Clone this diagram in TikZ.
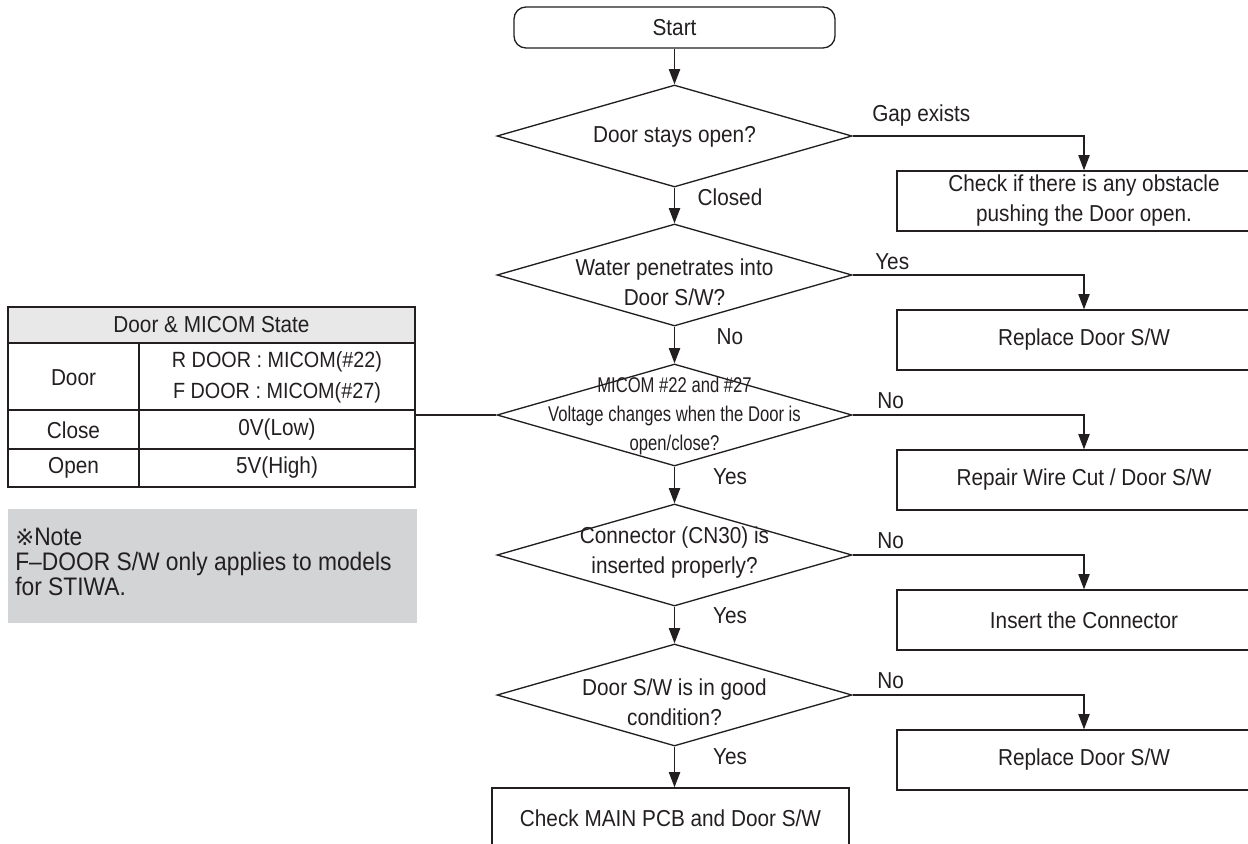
\documentclass[tikz,border=0pt]{standalone}
\usepackage{fontspec}
\setmainfont{Liberation Sans}[FakeStretch=0.9]
\newfontfamily\condfont{Liberation Sans}[FakeStretch=0.78]
\newfontfamily\symfont{DejaVu Sans}
\usetikzlibrary{shapes.geometric,arrows.meta,calc}
\definecolor{ink}{HTML}{231F20}
\definecolor{notegray}{HTML}{D3D4D6}
\definecolor{headgray}{HTML}{E8E8E9}
\begin{document}
\begin{tikzpicture}[x=0.75pt,y=-0.75pt,
  every node/.style={text=ink, font=\fontsize{17.3}{22.5}\selectfont},
  dia/.style={diamond, draw=ink, line width=1pt, minimum width=266.25pt, minimum height=76.5pt, inner sep=0pt},
  procbox/.style={draw=ink, line width=1pt, minimum height=45pt, inner sep=0pt, align=center},
  rbox/.style={procbox, minimum width=280.5pt},
  conn/.style={draw=ink, line width=1pt, -{Triangle[length=11.5pt,width=8.5pt]}},
  plain/.style={draw=ink, line width=1pt},
  lbl/.style={inner sep=0pt},
  dtext/.style={align=center, inner sep=0pt},
  cell/.style={inner sep=0pt, align=center}]

\useasboundingbox (0,0) rectangle (1248,843);

% start
\node[draw=ink, line width=1pt, rounded corners=9pt, minimum width=240.75pt, minimum height=30.75pt] (start) at (674.5,27.5) {Start};

% decisions
\node[dia] (d1) at (674.5,136) {};
\node[dtext] (d1t) at (674.5,137) {Door stays open?};
\node[dia] (d2) at (674.5,275) {};
\node[dtext] (d2t) at (674.5,282) {Water penetrates into\\Door S/W?};
\node[dia] (d3) at (674.5,415) {};
\node[dtext, font=\condfont\fontsize{16}{21.75}\selectfont] (d3t) at (674.5,416) {MICOM \#22 and \#27\\Voltage changes when the Door is\\open/close?};
\node[dia] (d4) at (674.5,555) {};
\node[dtext] (d4t) at (674.5,553) {Connector (CN30) is\\inserted properly?};
\node[dia] (d5) at (674.5,695) {};
\node[dtext] (d5t) at (674.5,702) {Door S/W is in good\\condition?};

% right boxes
\node[rbox] (r1) at (1084,201) {Check if there is any obstacle\\pushing the Door open.};
\node[rbox] (r2) at (1084,340) {Replace Door S/W};
\node[rbox] (r3) at (1084,480) {Repair Wire Cut / Door S/W};
\node[rbox] (r4) at (1084,620) {Insert the Connector};
\node[rbox] (r5) at (1084,760) {Replace Door S/W};

% final box
\node[procbox, minimum width=267.75pt] (fin) at (670.5,818) {Check MAIN PCB and Door S/W};

% vertical flow
\draw[conn] (start.south) -- (start.south |- d1.north);
\draw[conn] (d1.south) -- (d2.north);
\draw[conn] (d2.south) -- (d3.north);
\draw[conn] (d3.south) -- (d4.north);
\draw[conn] (d4.south) -- (d5.north);
\draw[conn] (d5.south) -- (d5.south |- fin.north);

\node[lbl] (lc) at (730,197) {Closed};
\node[lbl] (ln2) at (730,337) {No};
\node[lbl] (ly3) at (730,477) {Yes};
\node[lbl] (ly4) at (730,616) {Yes};
\node[lbl] (ly5) at (730,757) {Yes};

% branches
\draw[conn] (d1.east) -| (r1.north);
\draw[conn] (d2.east) -| (r2.north);
\draw[conn] (d3.east) -| (r3.north);
\draw[conn] (d4.east) -| (r4.north);
\draw[conn] (d5.east) -| (r5.north);

\node[lbl, anchor=west] (lg) at (872,116) {Gap exists};
\node[lbl, anchor=west] (ly2) at (875,262) {Yes};
\node[lbl, anchor=west] (ln3) at (877,401) {No};
\node[lbl, anchor=west] (ln4) at (877,541) {No};
\node[lbl, anchor=west] (ln5) at (877,681) {No};

% table
\fill[headgray] (8,307) rectangle (415,343);
\node[draw=ink, line width=1pt, minimum width=305.25pt, minimum height=135pt, inner sep=0pt] (tbl) at (211.5,397) {};
\draw[plain] (8,343) -- (415,343);
\draw[plain] (139,343) -- (139,487);
\draw[plain] (8,410) -- (415,410);
\draw[plain] (8,449) -- (415,449);
\node[cell] (th) at (211.5,325) {Door \& MICOM State};
\node[cell] (c11) at (73.5,378) {Door};
\node[cell, font=\fontsize{16.5}{23.25}\selectfont] (c12) at (277,377.5) {R DOOR : MICOM(\#22)\\F DOOR : MICOM(\#27)};
\node[cell] (c21) at (73.5,430) {Close};
\node[cell] (c22) at (277,430) {0V(Low)};
\node[cell] (c31) at (73.5,468) {Open};
\node[cell] (c32) at (277,468) {5V(High)};
\draw[plain] (d3.west -| tbl.east) -- (d3.west);

% note
\node[fill=notegray, minimum width=306.75pt, minimum height=85.5pt, inner sep=0pt] (note) at (212.5,566) {};
\node[anchor=west, align=left, inner sep=0pt, font=\fontsize{19}{18.75}\selectfont] (notet) at (15,562) {{\symfont\fontsize{17}{18.75}\selectfont ※}Note\\F–DOOR S/W only applies to models\\for STIWA.};

\end{tikzpicture}
\end{document}
